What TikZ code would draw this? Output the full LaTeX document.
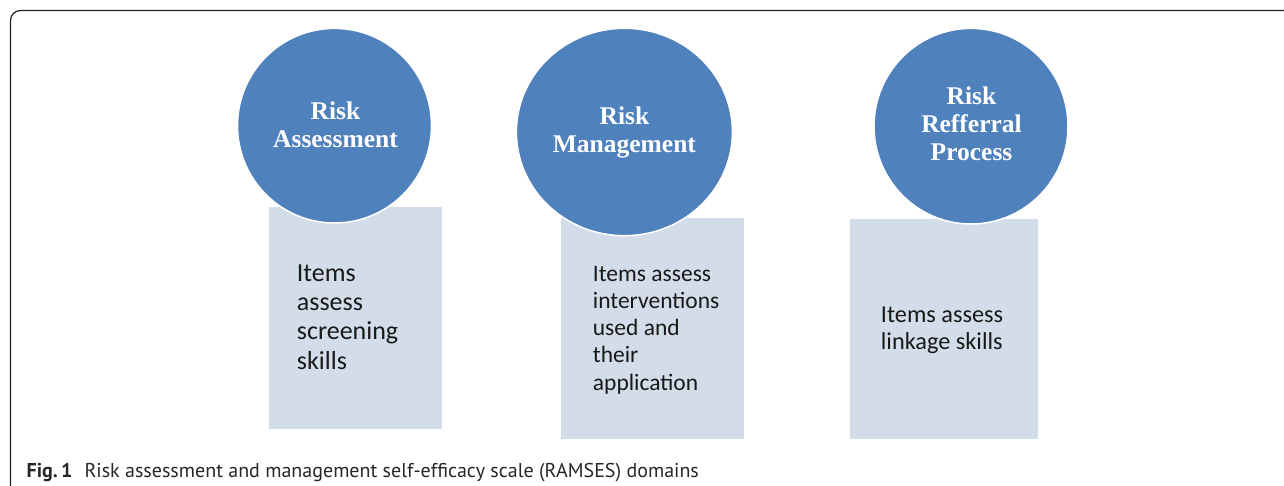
\documentclass[tikz,border=0pt]{standalone}
\usepackage{fontspec}
\setmainfont{Carlito}
\newfontfamily\titlefont{Liberation Serif}
\newfontfamily\capfont{PT Sans}
\definecolor{circblue}{HTML}{4F81BD}
\definecolor{boxfill}{HTML}{D3DCE9}
\definecolor{frameline}{HTML}{222222}
\begin{document}
\begin{tikzpicture}[x=1pt,y=-1pt,
  domainbox/.style={fill=boxfill, draw=none},
  domaincirc/.style={fill=circblue, draw=white, line width=1.5pt},
  titletext/.style={text=white, align=center, inner sep=0pt, anchor=base,
    font=\titlefont\bfseries\fontsize{25.5}{28.4}\selectfont},
  itemtext/.style={text=black!90, align=left, inner sep=0pt, anchor=base west}]
\useasboundingbox (0,0) rectangle (1284,486);
% frame
\draw[frameline, line width=1.2pt, rounded corners=10pt] (10.5,486) -- (10.5,10.5) -- (1284,10.5);
% boxes
\path[domainbox] (268.5,206.7) rectangle (441.5,429) coordinate (b1);
\path[domainbox] (561,218) rectangle (743.5,438.7) coordinate (b2);
\path[domainbox] (850,219) rectangle (1038.4,438.7) coordinate (b3);
% circles
\path[domaincirc] (334.5,125.7) ellipse [x radius=97, y radius=97.3];
\path[domaincirc] (624.4,132) ellipse [x radius=108, y radius=103.7];
\path[domaincirc] (971,126.2) ellipse [x radius=97, y radius=97.8];
% circle titles (base anchor = baseline of last line)
\node[titletext] (t1) at (335.5,147.7) {Risk\\Assessment};
\node[titletext] (t2) at (624.4,152.7) {Risk\\Management};
\node[titletext] (t3) at (971.5,161) {Risk\\Refferral\\Process};
% box texts (base anchor = baseline of last line)
\node[itemtext, font=\fontsize{26}{29.2}\selectfont] (i1) at (296.7,369) {Items\\assess\\screening\\skills};
\node[itemtext, font=\fontsize{23.5}{27.2}\selectfont] (i2) at (592.7,390) {Items assess\\interventions\\used and\\their\\application};
\node[itemtext, font=\fontsize{24.3}{26.7}\selectfont] (i3) at (880.7,349) {Items assess\\linkage skills};
% caption
\node[anchor=base west, inner sep=0pt, font=\capfont\fontsize{20}{22}\selectfont, text=black!85] (cap) at (26.5,477)
  {\textbf{Fig.\,1}\hspace{0.6em}Risk assessment and management self-efficacy scale (RAMSES) domains};
\end{tikzpicture}
\end{document}
